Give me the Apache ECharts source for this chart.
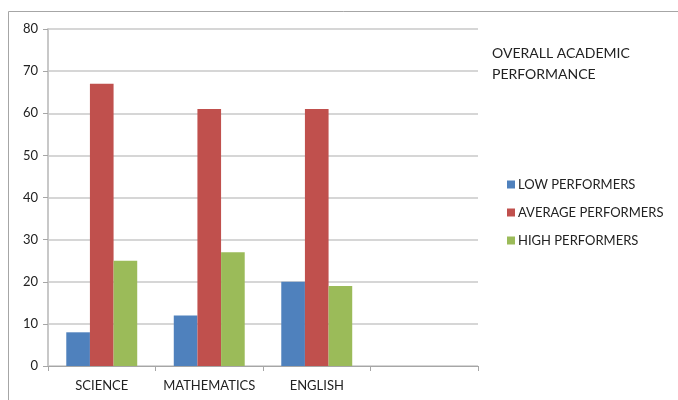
<!DOCTYPE html>
<html>
<head>
<meta charset="utf-8">
<script src="https://cdn.jsdelivr.net/npm/echarts@6/dist/echarts.min.js"></script>
<style>
  html, body { margin: 0; padding: 0; background: #fff; }
  #chart { width: 678px; height: 400px; }
</style>
</head>
<body>
<div id="chart"></div>
<script>
// data
const subjects = ["SCIENCE", "MATHEMATICS", "ENGLISH", ""];
const lowPerformers = [8, 12, 20, null];
const averagePerformers = [67, 61, 61, null];
const highPerformers = [25, 27, 19, null];
const seriesNames = ["LOW PERFORMERS", "AVERAGE PERFORMERS", "HIGH PERFORMERS"];

const chart = echarts.init(document.getElementById("chart"), null, { renderer: "canvas" });

const font = "Lato, 'Open Sans', sans-serif";

chart.setOption({
  animation: false,
  color: ["#4F81BD", "#C0504D", "#9BBB59"],
  textStyle: { fontFamily: font },
  graphic: [
    {
      type: "rect",
      shape: { x: 8.5, y: 11.5, width: 720, height: 420 },
      style: { fill: "none", stroke: "#a6a6a6", lineWidth: 1 },
      silent: true
    },
    {
      type: "text",
      left: 492,
      top: 43,
      style: {
        text: "OVERALL ACADEMIC\nPERFORMANCE",
        font: "14px " + font,
        fill: "#222",
        lineHeight: 21
      }
    }
  ],
  grid: { left: 48, right: 200, top: 29, bottom: 34 },
  legend: {
    orient: "vertical",
    left: 502,
    top: 173,
    itemWidth: 8,
    itemHeight: 8,
    itemGap: 15,
    icon: "rect",
    data: seriesNames,
    textStyle: { fontSize: 13, color: "#222", fontFamily: font, padding: [0, 0, 0, -2] }
  },
  xAxis: {
    type: "category",
    data: subjects,
    axisLine: { lineStyle: { color: "#a6a6a6", width: 1 } },
    axisTick: { show: true, length: 5, interval: 0, lineStyle: { color: "#a6a6a6" } },
    axisLabel: { fontSize: 13, color: "#222", margin: 13, interval: 0, fontFamily: font }
  },
  yAxis: {
    type: "value",
    min: 0,
    max: 80,
    interval: 10,
    axisLine: { show: true, lineStyle: { color: "#c8c8c8", width: 2 } },
    axisTick: { show: true, length: 5, lineStyle: { color: "#a6a6a6" } },
    axisLabel: { fontSize: 13, color: "#222", margin: 10, fontFamily: font },
    splitLine: { lineStyle: { color: "#c8c8c8", width: 1.5 } }
  },
  series: [
    { name: seriesNames[0], type: "bar", data: lowPerformers, barGap: "0%", barCategoryGap: "34%" },
    { name: seriesNames[1], type: "bar", data: averagePerformers, barGap: "0%", barCategoryGap: "34%" },
    { name: seriesNames[2], type: "bar", data: highPerformers, barGap: "0%", barCategoryGap: "34%" }
  ]
});
</script>
</body>
</html>
